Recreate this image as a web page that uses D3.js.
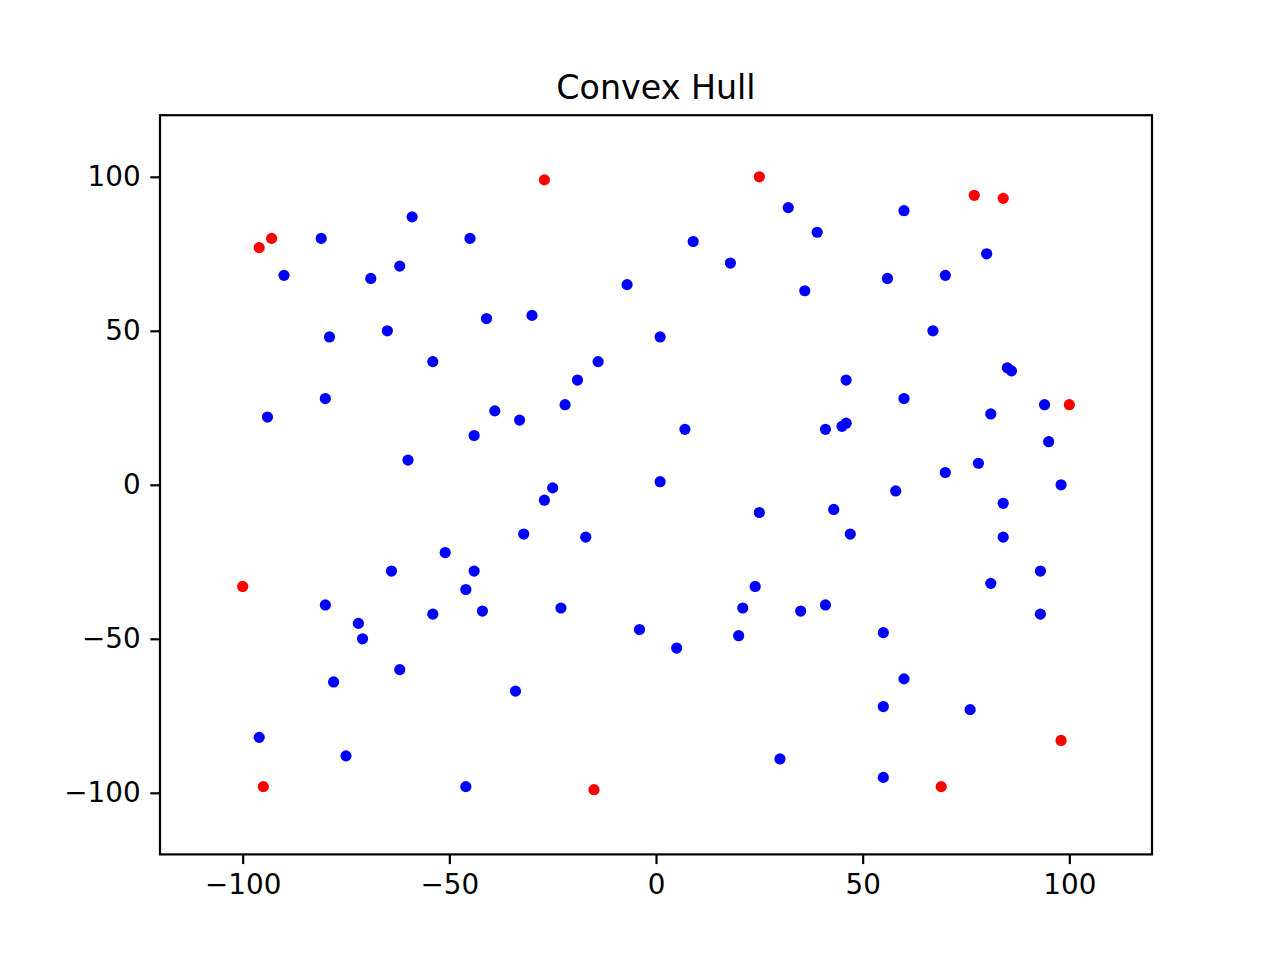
<!DOCTYPE html>
<html>
<head>
<meta charset="utf-8">
<script src="https://cdn.jsdelivr.net/npm/d3@7"></script>
<style>
  body { margin: 0; background: #fff; }
  text { font-family: "DejaVu Sans", sans-serif; }
</style>
</head>
<body>
<div id="chart"></div>
<script>
// all sample points (x, y)
const pointsX = [32, 60, 39, -59, -81, -45, 9, 18, -90, -69, -62, -7, 56, 70, 80, 36,
  -41, -30, -65, -79, 1, 67, -54, -14, -19, 46, 85, 86, -80, 60, -39, -22, -33, -94,
  -44, 7, 41, 45, 46, 81, 94, 95, -60, 1, -25, -27, 70, 78, 98, 58, 84, 43, 25, 47,
  -32, -17, 84, -51, -64, -44, 93, 24, 81, -46, -80, 41, 35, 21, -23, -42, -54, 93,
  -72, -71, -4, 20, 5, 55, -62, 60, -78, -34, 55, 76, -96, -75, 30, -46, 55];
const pointsY = [90, 89, 82, 87, 80, 80, 79, 72, 68, 67, 71, 65, 67, 68, 75, 63,
  54, 55, 50, 48, 48, 50, 40, 40, 34, 34, 38, 37, 28, 28, 24, 26, 21, 22,
  16, 18, 18, 19, 20, 23, 26, 14, 8, 1, -1, -5, 4, 7, 0, -2, -6, -8, -9, -16,
  -16, -17, -17, -22, -28, -28, -28, -33, -32, -34, -39, -39, -41, -40, -40, -41, -42, -42,
  -45, -50, -47, -49, -53, -48, -60, -63, -64, -67, -72, -73, -82, -88, -89, -98, -95];

// convex hull vertices
const hullX = [-27, 25, 77, 84, -93, -96, 100, -100, 98, -95, -15, 69];
const hullY = [99, 100, 94, 93, 80, 77, 26, -33, -83, -98, -99, -98];

const xTicks = [-100, -50, 0, 50, 100];
const yTicks = [-100, -50, 0, 50, 100];

let width = 1280;
let height = 960;
let margin = { top: 115.2, right: 128, bottom: 105.6, left: 160 };
let innerW = width - margin.left - margin.right;
let innerH = height - margin.top - margin.bottom;

let svg = d3
  .select("#chart")
  .append("svg")
  .attr("width", width)
  .attr("height", height);

let x = d3.scaleLinear().domain([-120, 120]).range([0, innerW]);
let y = d3.scaleLinear().domain([-120, 120]).range([innerH, 0]);

let g = svg.append("g").attr("transform", `translate(${margin.left},${margin.top})`);

// clip to axes
svg.append("clipPath").attr("id", "clip")
  .append("rect").attr("width", innerW).attr("height", innerH);

let dots = g.append("g").attr("clip-path", "url(#clip)");

let pts = pointsX.map((d, i) => ({ x: d, y: pointsY[i] }));
let hull = hullX.map((d, i) => ({ x: d, y: hullY[i] }));

dots.selectAll("circle.pt")
  .data(pts)
  .enter()
  .append("circle")
  .attr("class", "pt")
  .attr("cx", (d) => x(d.x))
  .attr("cy", (d) => y(d.y))
  .attr("r", 5.6)
  .attr("fill", "#0000ff");

dots.selectAll("circle.hull")
  .data(hull)
  .enter()
  .append("circle")
  .attr("class", "hull")
  .attr("cx", (d) => x(d.x))
  .attr("cy", (d) => y(d.y))
  .attr("r", 5.6)
  .attr("fill", "#ff0000");

// axes
let xAxis = g.append("g")
  .attr("transform", `translate(0,${innerH})`)
  .call(d3.axisBottom(x).tickValues(xTicks).tickSize(9.7).tickPadding(9.7));
let yAxis = g.append("g")
  .call(d3.axisLeft(y).tickValues(yTicks).tickSize(9.7).tickPadding(9.7));

[xAxis, yAxis].forEach((a) => {
  a.select(".domain").remove();
  a.selectAll(".tick line").attr("stroke", "#000").attr("stroke-width", 2.2);
  a.selectAll(".tick text")
    .attr("fill", "#000")
    .style("font-size", "27.8px")
    .style("font-family", "DejaVu Sans");
});

// frame
g.append("rect")
  .attr("width", innerW)
  .attr("height", innerH)
  .attr("fill", "none")
  .attr("stroke", "#000")
  .attr("stroke-width", 2.2);

// title
svg.append("text")
  .attr("x", margin.left + innerW / 2)
  .attr("y", margin.top - 16.7)
  .attr("text-anchor", "middle")
  .style("font-size", "33.3px")
  .attr("fill", "#000")
  .text("Convex Hull");
</script>
</body>
</html>
